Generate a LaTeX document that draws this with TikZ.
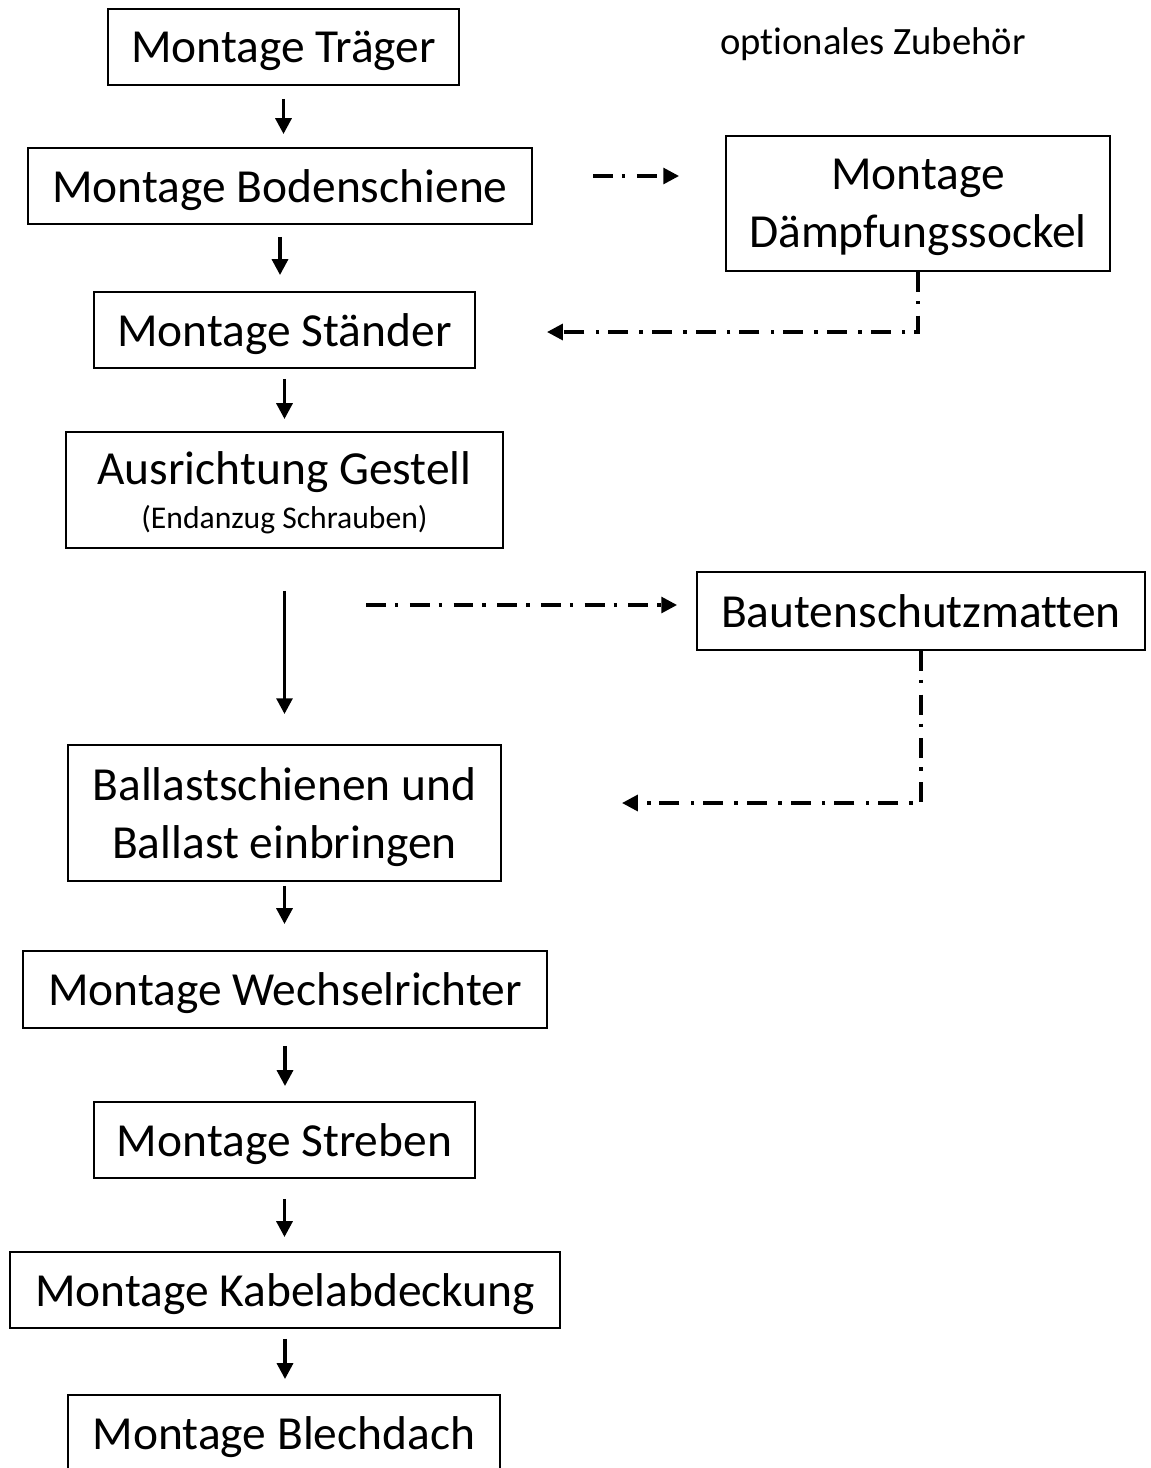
\documentclass[tikz,border=0pt]{standalone}
\usepackage{fontspec}
\setmainfont{Carlito}[Ligatures=NoCommon]
\usetikzlibrary{shapes.geometric, arrows.meta}
\tikzstyle{process} = [rectangle, inner sep=0pt, minimum height=1.52cm, text depth=0pt,
text centered, align=center, draw=black, line width=1.1pt, font=\fontsize{27}{33}\selectfont]
\tikzstyle{arrow} = [line width=2pt, -{Triangle[length=9pt, width=9pt]}, shorten <=0.26cm, shorten >=0.26cm]
\tikzstyle{optarrow} = [line width=2pt, -{Triangle[length=9pt, width=9pt]},
dash pattern=on 11.3pt off 5.1pt on 2pt off 6.5pt]

\begin{document}
\begin{tikzpicture}[x=0.02cm, y=-0.02cm]
\useasboundingbox (0,0) rectangle (1151,1468);

% ------------------------- nodes -------------------------
% ----- node: 0
\node(0)[process, minimum width=7.02cm] at (283.5,47) {Montage Träger};
% ----- node: 1
\node(1)[process, minimum width=10.08cm] at (280,186) {Montage Bodenschiene};
% ----- node: 2
\node(2)[process, minimum width=7.62cm] at (284.5,330) {Montage Ständer};
% ----- node: 3
\node(3)[process, minimum width=8.74cm, minimum height=2.32cm] at (284.5,490) {Ausrichtung Gestell\\[-8pt]{\fontsize{18}{22}\selectfont (Endanzug Schrauben)}};
% ----- node: 4
\node(4)[process, minimum width=8.66cm, minimum height=2.72cm] at (284.5,813) {Ballastschienen und\\Ballast einbringen};
% ----- node: 5
\node(5)[process, minimum width=10.48cm, minimum height=1.54cm] at (285,989.5) {Montage Wechselrichter};
% ----- node: 6
\node(6)[process, minimum width=7.62cm] at (284.5,1140) {Montage Streben};
% ----- node: 7
\node(7)[process, minimum width=11.0cm] at (285,1290) {Montage Kabelabdeckung};
% ----- node: 8
\node(8)[process, minimum width=8.64cm] at (284,1433) {Montage Blechdach};

% ----- optional accessories
\node(title) at (873,44) {\fontsize{22}{26}\selectfont optionales Zubehör};
\node(opt1)[process, minimum width=7.68cm, minimum height=2.70cm] at (918,203.5) {Montage\\Dämpfungssockel};
\node(opt2)[process, minimum width=8.96cm, minimum height=1.56cm] at (921,611) {Bautenschutzmatten};
\coordinate(out1) at (593,176);
\coordinate(in1) at (547,332);
\coordinate(out2) at (366,605);
\coordinate(in2) at (622,803);

% ------------------------- connections -------------------------
\draw[arrow](0.south)--(0.south |- 1.north);
\draw[arrow, shorten <=0.24cm, shorten >=0.32cm](1.south)--(1.south |- 2.north);
\draw[arrow, shorten <=0.2cm, shorten >=0.24cm](2.south)--(2.south |- 3.north);
\draw[arrow, shorten <=0.84cm, shorten >=0.6cm](3.south)--(3.south |- 4.north);
\draw[arrow, shorten <=0.08cm, shorten >=0.52cm](4.south)--(4.south |- 5.north);
\draw[arrow, shorten <=0.34cm, shorten >=0.3cm](5.south)--(5.south |- 6.north);
\draw[arrow, shorten <=0.4cm, shorten >=0.28cm](6.south)--(6.south |- 7.north);
\draw[arrow, shorten <=0.2cm, shorten >=0.3cm](7.south)--(7.south |- 8.north);

% optional steps
\draw[optarrow, shorten >=0.92cm](out1)--(out1 -| opt1.west);
\draw[optarrow](opt1.south) |- (in1);
\draw[optarrow, shorten >=0.38cm](out2)--(out2 -| opt2.west);
\draw[optarrow](opt2.south) |- (in2);
\end{tikzpicture}
\end{document}
